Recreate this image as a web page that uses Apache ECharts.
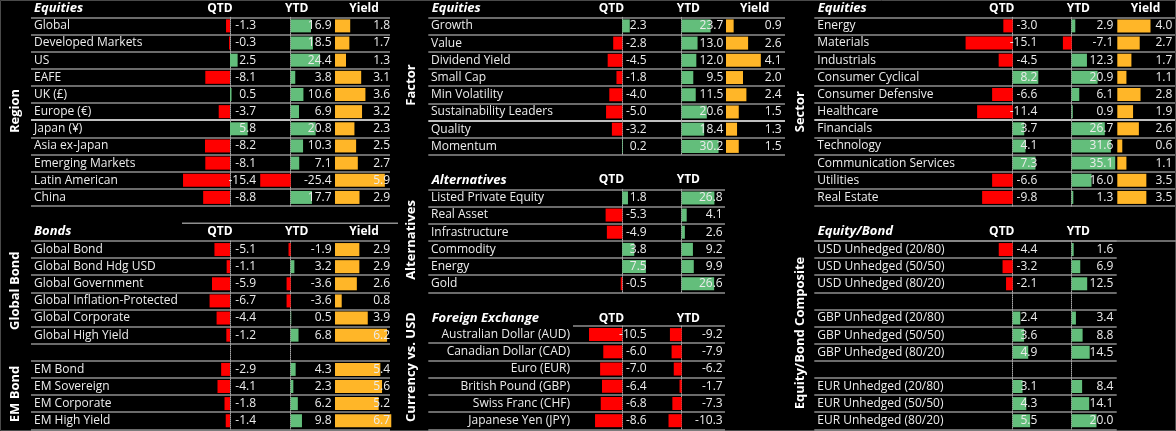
<!DOCTYPE html>
<html><head><meta charset="utf-8">
<script src="https://cdn.jsdelivr.net/npm/echarts@6/dist/echarts.min.js"></script>
<style>html,body{margin:0;padding:0;background:#000;}#c{width:1176px;height:431px;}</style>
</head><body><div id="c"></div>
<script>
// ---------- DATA ----------
const regionNames = ['Global','Developed Markets','US','EAFE','UK (£)','Europe (€)','Japan (¥)','Asia ex-Japan','Emerging Markets','Latin American','China'];
const regionQTD   = [-1.3,-0.3,2.5,-8.1,0.5,-3.7,5.8,-8.2,-8.1,-15.4,-8.8];
const regionYTD   = [16.9,18.5,24.4,3.8,10.6,6.9,20.8,10.3,7.1,-25.4,17.7];
const regionYield = [1.8,1.7,1.3,3.1,3.6,3.2,2.3,2.5,2.7,5.9,2.9];

const globalBondNames = ['Global Bond','Global Bond Hdg USD','Global Government','Global Inflation-Protected','Global Corporate','Global High Yield'];
const globalBondQTD   = [-5.1,-1.1,-5.9,-6.7,-4.4,-1.2];
const globalBondYTD   = [-1.9,3.2,-3.6,-3.6,0.5,6.8];
const globalBondYield = [2.9,2.9,2.6,0.8,3.9,6.2];
const emBondNames = ['EM Bond','EM Sovereign','EM Corporate','EM High Yield'];
const emBondQTD   = [-2.9,-4.1,-1.8,-1.4];
const emBondYTD   = [4.3,2.3,6.2,9.8];
const emBondYield = [5.4,5.6,5.2,6.7];

const factorNames = ['Growth','Value','Dividend Yield','Small Cap','Min Volatility','Sustainability Leaders','Quality','Momentum'];
const factorQTD   = [2.3,-2.8,-4.5,-1.8,-4.0,-5.0,-3.2,0.2];
const factorYTD   = [23.7,13.0,12.0,9.5,11.5,20.6,18.4,30.2];
const factorYield = [0.9,2.6,4.1,2.0,2.4,1.5,1.3,1.5];

const altNames = ['Listed Private Equity','Real Asset','Infrastructure','Commodity','Energy','Gold'];
const altQTD   = [1.8,-5.3,-4.9,3.8,7.5,-0.5];
const altYTD   = [26.8,4.1,2.6,9.2,9.9,26.6];

const fxNames = ['Australian Dollar (AUD)','Canadian Dollar (CAD)','Euro (EUR)','British Pound (GBP)','Swiss Franc (CHF)','Japanese Yen (JPY)'];
const fxQTD   = [-10.5,-6.0,-7.0,-6.4,-6.8,-8.6];
const fxYTD   = [-9.2,-7.9,-6.2,-1.7,-7.3,-10.3];

const sectorNames = ['Energy','Materials','Industrials','Consumer Cyclical','Consumer Defensive','Healthcare','Financials','Technology','Communication Services','Utilities','Real Estate'];
const sectorQTD   = [-3.0,-15.1,-4.5,8.2,-6.6,-11.4,3.7,4.1,7.3,-6.6,-9.8];
const sectorYTD   = [2.9,-7.1,12.3,20.9,6.1,0.9,26.7,31.6,35.1,16.0,1.3];
const sectorYield = [4.0,2.7,1.7,1.1,2.8,1.9,2.6,0.6,1.1,3.5,3.5];

const usdNames = ['USD Unhedged (20/80)','USD Unhedged (50/50)','USD Unhedged (80/20)'];
const usdQTD = [-4.4,-3.2,-2.1];
const usdYTD = [1.6,6.9,12.5];
const gbpNames = ['GBP Unhedged (20/80)','GBP Unhedged (50/50)','GBP Unhedged (80/20)'];
const gbpQTD = [2.4,3.6,4.9];
const gbpYTD = [3.4,8.8,14.5];
const eurNames = ['EUR Unhedged (20/80)','EUR Unhedged (50/50)','EUR Unhedged (80/20)'];
const eurQTD = [3.1,4.3,5.5];
const eurYTD = [8.4,14.1,20.0];

// ---------- BUILD ----------
const FONT = "'Open Sans', sans-serif";
const TXT = '#ececec';
const LINE = '#8f8f8f';
const RED = '#FF0000', GREEN = '#63BE7B', ORANGE = '#FFB628';
const grid = [], xAxis = [], yAxis = [], series = [], graphic = [];
const fmt = v => v == null ? '' : v.toFixed(1);
const withGap = (...parts) => parts.reduce((acc, p, i) => i ? acc.concat([null], p) : acc.concat(p), []);
const namesGap = (...parts) => parts.reduce((acc, p, i) => i ? acc.concat([''], p) : acc.concat(p), []);

function addTable(t) {
  const n = t.names.length, h = t.bottom - t.top;
  const gi = grid.length;
  grid.push({left: t.left, top: t.top, width: t.right - t.left, height: h, outerBoundsMode: 'none'});
  xAxis.push({type: 'value', gridIndex: gi, min: 0, max: 1, show: false});
  const lc = [];
  for (let i = 0; i <= n; i++) lc.push(t.lineColors && t.lineColors[i] ? t.lineColors[i] : LINE);
  yAxis.push({type: 'category', gridIndex: gi, inverse: true, data: t.names, z: 0,
    axisLine: {show: false}, axisTick: {show: false},
    splitLine: {show: true, interval: 0, lineStyle: {color: lc, width: 1.5}},
    axisLabel: {interval: 0, color: TXT, fontFamily: FONT, fontSize: 12,
      align: t.labelAlign || 'left', margin: -(t.labelX - t.left)}});
  t.cols.forEach(c => {
    const left = c.zero + c.min * c.scale, width = (c.max - c.min) * c.scale, right = left + width;
    const g = grid.length;
    grid.push({left, top: t.top, width, height: h, outerBoundsMode: 'none'});
    xAxis.push({type: 'value', gridIndex: g, min: c.min, max: c.max, show: false});
    const yi = yAxis.length;
    yAxis.push({type: 'category', gridIndex: g, inverse: true, data: t.names, z: 1,
      axisLine: {show: !c.yield, onZero: true, lineStyle: {color: '#a8a8a8', type: 'dotted', width: 1}},
      axisTick: {show: false}, axisLabel: {show: false}, splitLine: {show: false}});
    yAxis.push({type: 'category', gridIndex: g, inverse: true, position: 'right', offset: c.valueRight - right, z: 10,
      data: t.names, axisLine: {show: false, onZero: false}, axisTick: {show: false}, splitLine: {show: false},
      axisLabel: {interval: 0, margin: 0, align: 'right', color: TXT, fontFamily: FONT, fontSize: 12,
        formatter: (v, i) => fmt(c.values[i])}});
    series.push({type: 'bar', xAxisIndex: g, yAxisIndex: yi, data: c.values, barWidth: 13, silent: true, z: 2,
      itemStyle: {color: c.yield ? ORANGE : (p => p.value < 0 ? RED : GREEN)}});
  });
}

function text(x, y, s, o) {
  graphic.push({type: 'text', x, y, silent: true, rotation: (o && o.rot) || 0, z: 20,
    style: {text: s, fill: '#fff', fontFamily: FONT, fontSize: (o && o.size) || 12,
      fontWeight: 'bold', fontStyle: (o && o.italic) ? 'italic' : 'normal',
      align: (o && o.align) || 'center', textAlign: (o && o.align) || 'center',
      verticalAlign: 'middle', textVerticalAlign: 'middle'}});
}
function hline(x1, x2, y, color) {
  graphic.push({type: 'line', silent: true, shape: {x1, y1: y, x2, y2: y}, style: {stroke: color || LINE, lineWidth: 1.5}});
}

const W = '#ffffff';
// Region
addTable({names: regionNames, top: 17.3, bottom: 206, left: 31, right: 390, labelX: 34,
  lineColors: {6: W},
  cols: [
    {values: regionQTD, zero: 230, scale: 3.05, min: -16, max: 8, valueRight: 256},
    {values: regionYTD, zero: 290.7, scale: 1.2, min: -26, max: 30, valueRight: 331.5},
    {values: regionYield, zero: 335, scale: 8.45, min: 0, max: 6.5, valueRight: 390, yield: true}]});
// Bonds
addTable({names: namesGap(globalBondNames, emBondNames), top: 241, bottom: 429.3, left: 31, right: 390, labelX: 34,
  cols: [
    {values: withGap(globalBondQTD, emBondQTD), zero: 230, scale: 3.05, min: -16, max: 8, valueRight: 256},
    {values: withGap(globalBondYTD, emBondYTD), zero: 290.7, scale: 1.15, min: -26, max: 30, valueRight: 331.5},
    {values: withGap(globalBondYield, emBondYield), zero: 335, scale: 8.4, min: 0, max: 6.8, valueRight: 390, yield: true}]});
// Factor
addTable({names: factorNames, top: 17.3, bottom: 155, left: 428.3, right: 785, labelX: 431,
  lineColors: {6: W},
  cols: [
    {values: factorQTD, zero: 622.3, scale: 3.25, min: -6, max: 3, valueRight: 646.7},
    {values: factorYTD, zero: 681.7, scale: 1.22, min: 0, max: 35, valueRight: 723.3},
    {values: factorYield, zero: 726, scale: 8.5, min: 0, max: 6, valueRight: 781.7, yield: true}]});
// Alternatives
addTable({names: altNames, top: 189.3, bottom: 292.3, left: 428.3, right: 725, labelX: 431,
  cols: [
    {values: altQTD, zero: 622.3, scale: 3.15, min: -6, max: 8, valueRight: 646.7},
    {values: altYTD, zero: 681.7, scale: 1.22, min: 0, max: 30, valueRight: 722.7}]});
// Foreign exchange
addTable({names: fxNames, top: 326, bottom: 429.3, left: 428.3, right: 725, labelX: 570, labelAlign: 'right',
  lineColors: {0: 'rgba(0,0,0,0)'},
  cols: [
    {values: fxQTD, zero: 622.3, scale: 3.17, min: -11, max: 2, valueRight: 646.7},
    {values: fxYTD, zero: 681.7, scale: 1.28, min: -11, max: 30, valueRight: 722.7}]});
// Sector
addTable({names: sectorNames, top: 17.3, bottom: 206, left: 814.3, right: 1175, labelX: 817.3,
  lineColors: {6: W},
  cols: [
    {values: sectorQTD, zero: 1012.7, scale: 3.12, min: -16, max: 9, valueRight: 1037.3},
    {values: sectorYTD, zero: 1071.7, scale: 1.24, min: -8, max: 36, valueRight: 1113.3},
    {values: sectorYield, zero: 1117.3, scale: 8.3, min: 0, max: 6.5, valueRight: 1172.3, yield: true}]});
// Equity / Bond
addTable({names: namesGap(usdNames, gbpNames, eurNames), top: 241, bottom: 429.3, left: 814.3, right: 1116.7, labelX: 817.3,
  cols: [
    {values: withGap(usdQTD, gbpQTD, eurQTD), zero: 1012.7, scale: 3.17, min: -5, max: 6, valueRight: 1037.3},
    {values: withGap(usdYTD, gbpYTD, eurYTD), zero: 1071.7, scale: 1.24, min: 0, max: 30, valueRight: 1113.3}]});

// headers
text(34, 8.3, 'Equities', {italic: true, align: 'left', size: 13});
text(220, 8.3, 'QTD'); text(296.7, 8.3, 'YTD'); text(364, 8.3, 'Yield');
text(34, 231.7, 'Bonds', {italic: true, align: 'left', size: 13});
text(220, 231.7, 'QTD'); text(296.7, 231.7, 'YTD'); text(364, 231.7, 'Yield');
text(431.7, 8.3, 'Equities', {italic: true, align: 'left', size: 13});
text(611.5, 8.3, 'QTD'); text(688.3, 8.3, 'YTD'); text(754.7, 8.3, 'Yield');
text(431.7, 180, 'Alternatives', {italic: true, align: 'left', size: 13});
text(611.5, 180, 'QTD'); text(688.3, 180, 'YTD');
text(431.7, 318.3, 'Foreign Exchange', {italic: true, align: 'left', size: 13});
text(611.5, 318.3, 'QTD'); text(688.3, 318.3, 'YTD');
text(817.7, 8.3, 'Equities', {italic: true, align: 'left', size: 13});
text(1001.8, 8.3, 'QTD'); text(1078.3, 8.3, 'YTD'); text(1145.5, 8.3, 'Yield');
text(817.7, 231.7, 'Equity/Bond', {italic: true, align: 'left', size: 13});
text(1001.8, 231.7, 'QTD'); text(1078.3, 231.7, 'YTD');

// side labels
const R = Math.PI / 2;
text(15.7, 111, 'Region', {rot: R, size: 13});
text(15.7, 290.7, 'Global Bond', {rot: R, size: 13});
text(15.7, 394, 'EM Bond', {rot: R, size: 13});
text(411, 85, 'Factor', {rot: R, size: 13});
text(411, 240, 'Alternatives', {rot: R, size: 13});
text(411, 367, 'Currency vs. USD', {rot: R, size: 13});
text(800.7, 111.7, 'Sector', {rot: R, size: 13});
text(800.7, 333, 'Equity/Bond Composite', {rot: R, size: 13});

// decorative rules
hline(182, 398, 223.3);
hline(573, 725, 326);
hline(814.3, 1176, 241);
graphic.push({type: 'rect', silent: true, z: -1, shape: {x: 0.5, y: 0.5, width: 1175, height: 430}, style: {fill: null, stroke: '#4a4a4a', lineWidth: 1}});

const chart = echarts.init(document.getElementById('c'), null, {renderer: 'canvas'});
chart.setOption({backgroundColor: '#000', animation: false, grid, xAxis, yAxis, series, graphic});
</script></body></html>
